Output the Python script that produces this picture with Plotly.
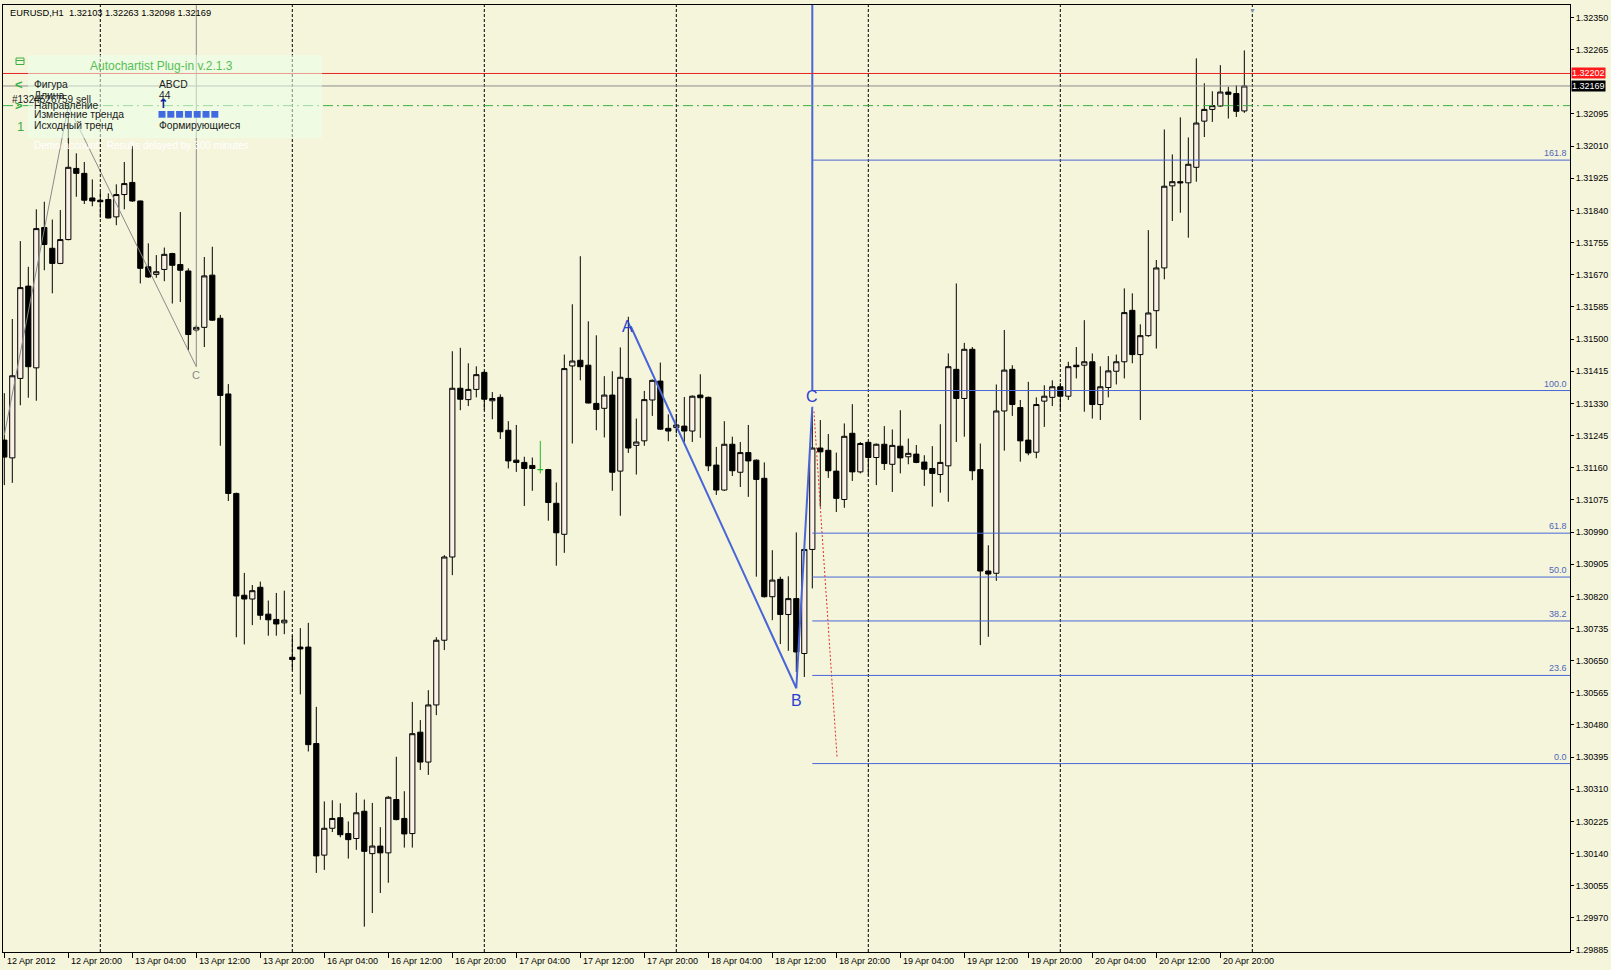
import plotly.graph_objects as go

# ---------------- data (EURUSD H1, bar index 0 = 12 Apr 2012 12:00) ----------------
opens = [
    1.31233, 1.31186, 1.31396, 1.31640, 1.31424, 1.31795, 1.31740, 1.31700, 1.31763, 1.31951,
    1.31938, 1.31873, 1.31867, 1.31869, 1.31823, 1.31882, 1.31914, 1.31865, 1.31691, 1.31671,
    1.31684, 1.31726, 1.31697, 1.31680, 1.31524, 1.31531, 1.31669, 1.31555, 1.31355, 1.31092,
    1.30823, 1.30813, 1.30844, 1.30773, 1.30759, 1.30750, 1.30659, 1.30686, 1.30686, 1.30431,
    1.30136, 1.30207, 1.30235, 1.30193, 1.30180, 1.30252, 1.30140, 1.30160, 1.30142, 1.30283,
    1.30233, 1.30193, 1.30461, 1.30382, 1.30533, 1.30704, 1.30924, 1.31370, 1.31340, 1.31367,
    1.31412, 1.31337, 1.31346, 1.31259, 1.31180, 1.31174, 1.31166, 1.31155, 1.31155, 1.31066,
    1.30984, 1.31429, 1.31444, 1.31431, 1.31330, 1.31317, 1.31352, 1.31151, 1.31396, 1.31219,
    1.31231, 1.31339, 1.31389, 1.31264, 1.31266, 1.31270, 1.31257, 1.31352, 1.31346, 1.31167,
    1.31101, 1.31222, 1.31148, 1.31200, 1.31180, 1.31132, 1.30819, 1.30865, 1.30772, 1.30814,
    1.30669, 1.30944, 1.31212, 1.31206, 1.31151, 1.31076, 1.31251, 1.31149, 1.31227, 1.31187,
    1.31222, 1.31169, 1.31217, 1.31189, 1.31196, 1.31175, 1.31158, 1.31142, 1.31165, 1.31420,
    1.31343, 1.31473, 1.31155, 1.30887, 1.30881, 1.31310, 1.31420, 1.31319, 1.31233, 1.31201,
    1.31336, 1.31346, 1.31374, 1.31349, 1.31431, 1.31431, 1.31440, 1.31327, 1.31372, 1.31415,
    1.31440, 1.31576, 1.31459, 1.31509, 1.31575, 1.31688, 1.31905, 1.31916, 1.31913, 1.31954,
    1.32076, 1.32107, 1.32116, 1.32153, 1.32149, 1.32103]
highs = [
    1.31357, 1.31553, 1.31759, 1.31691, 1.31843, 1.31863, 1.31816, 1.31841, 1.32100, 1.31991,
    1.31968, 1.31922, 1.31889, 1.31885, 1.31909, 1.31968, 1.32010, 1.31866, 1.31753, 1.31722,
    1.31742, 1.31728, 1.31836, 1.31687, 1.31537, 1.31717, 1.31744, 1.31564, 1.31381, 1.31094,
    1.30882, 1.30850, 1.30859, 1.30809, 1.30829, 1.30835, 1.30716, 1.30736, 1.30750, 1.30528,
    1.30278, 1.30281, 1.30273, 1.30225, 1.30301, 1.30283, 1.30274, 1.30210, 1.30292, 1.30396,
    1.30305, 1.30541, 1.30493, 1.30572, 1.30712, 1.30929, 1.31468, 1.31477, 1.31436, 1.31428,
    1.31415, 1.31360, 1.31354, 1.31283, 1.31273, 1.31189, 1.31187, 1.31231, 1.31157, 1.31121,
    1.31459, 1.31592, 1.31719, 1.31547, 1.31510, 1.31402, 1.31415, 1.31478, 1.31559, 1.31290,
    1.31363, 1.31393, 1.31438, 1.31301, 1.31302, 1.31347, 1.31351, 1.31407, 1.31348, 1.31215,
    1.31283, 1.31242, 1.31228, 1.31273, 1.31182, 1.31174, 1.30942, 1.30872, 1.30873, 1.30989,
    1.30946, 1.31317, 1.31286, 1.31249, 1.31200, 1.31277, 1.31328, 1.31228, 1.31229, 1.31224,
    1.31270, 1.31261, 1.31312, 1.31237, 1.31220, 1.31193, 1.31217, 1.31275, 1.31462, 1.31647,
    1.31490, 1.31479, 1.31224, 1.30955, 1.31380, 1.31524, 1.31431, 1.31339, 1.31387, 1.31346,
    1.31378, 1.31391, 1.31384, 1.31440, 1.31479, 1.31550, 1.31462, 1.31428, 1.31455, 1.31459,
    1.31634, 1.31621, 1.31539, 1.31788, 1.31709, 1.32054, 1.31988, 1.32086, 1.32033, 1.32242,
    1.32176, 1.32155, 1.32224, 1.32167, 1.32171, 1.32263]
lows = [
    1.31114, 1.31120, 1.31325, 1.31345, 1.31337, 1.31682, 1.31621, 1.31698, 1.31761, 1.31876,
    1.31857, 1.31851, 1.31821, 1.31819, 1.31801, 1.31843, 1.31863, 1.31647, 1.31662, 1.31662,
    1.31653, 1.31594, 1.31598, 1.31471, 1.31518, 1.31479, 1.31548, 1.31218, 1.31072, 1.30712,
    1.30693, 1.30744, 1.30758, 1.30716, 1.30716, 1.30720, 1.30626, 1.30561, 1.30410, 1.30089,
    1.30097, 1.30197, 1.30183, 1.30127, 1.30150, 1.29947, 1.29983, 1.30036, 1.30063, 1.30228,
    1.30156, 1.30156, 1.30361, 1.30348, 1.30506, 1.30678, 1.30876, 1.31312, 1.31323, 1.31346,
    1.31312, 1.31288, 1.31236, 1.31158, 1.31149, 1.31059, 1.31099, 1.31145, 1.31020, 1.30901,
    1.30935, 1.31224, 1.31391, 1.31330, 1.31259, 1.31240, 1.31099, 1.31033, 1.31199, 1.31142,
    1.31218, 1.31297, 1.31260, 1.31230, 1.31251, 1.31228, 1.31228, 1.31239, 1.31151, 1.31088,
    1.31099, 1.31138, 1.31109, 1.31083, 1.30872, 1.30817, 1.30757, 1.30694, 1.30676, 1.30620,
    1.30607, 1.30841, 1.31057, 1.31133, 1.31043, 1.31054, 1.31125, 1.31145, 1.31139, 1.31114,
    1.31154, 1.31096, 1.31145, 1.31169, 1.31172, 1.31112, 1.31057, 1.31094, 1.31070, 1.31228,
    1.31242, 1.31127, 1.30691, 1.30713, 1.30861, 1.31205, 1.31297, 1.31176, 1.31193, 1.31185,
    1.31268, 1.31323, 1.31312, 1.31339, 1.31396, 1.31308, 1.31290, 1.31286, 1.31346, 1.31380,
    1.31396, 1.31436, 1.31286, 1.31506, 1.31475, 1.31658, 1.31812, 1.31834, 1.31768, 1.31916,
    1.32034, 1.32074, 1.32114, 1.32083, 1.32087, 1.32098]
closes = [
    1.31188, 1.31403, 1.31636, 1.31427, 1.31792, 1.31750, 1.31700, 1.31763, 1.31954, 1.31938,
    1.31867, 1.31865, 1.31863, 1.31820, 1.31882, 1.31911, 1.31865, 1.31687, 1.31664, 1.31678,
    1.31724, 1.31695, 1.31682, 1.31512, 1.31531, 1.31667, 1.31550, 1.31351, 1.31092, 1.30821,
    1.30813, 1.30835, 1.30770, 1.30758, 1.30747, 1.30757, 1.30653, 1.30681, 1.30428, 1.30134,
    1.30207, 1.30233, 1.30190, 1.30177, 1.30248, 1.30146, 1.30160, 1.30142, 1.30289, 1.30230,
    1.30192, 1.30457, 1.30382, 1.30533, 1.30704, 1.30924, 1.31370, 1.31341, 1.31367, 1.31406,
    1.31341, 1.31343, 1.31255, 1.31178, 1.31174, 1.31158, 1.31158, 1.31155, 1.31068, 1.30988,
    1.31422, 1.31442, 1.31427, 1.31331, 1.31314, 1.31352, 1.31148, 1.31399, 1.31212, 1.31228,
    1.31340, 1.31391, 1.31262, 1.31257, 1.31273, 1.31257, 1.31349, 1.31345, 1.31165, 1.31101,
    1.31222, 1.31152, 1.31200, 1.31178, 1.31129, 1.30819, 1.30863, 1.30772, 1.30814, 1.30673,
    1.30944, 1.31212, 1.31202, 1.31152, 1.31079, 1.31243, 1.31149, 1.31224, 1.31187, 1.31222,
    1.31171, 1.31219, 1.31186, 1.31198, 1.31174, 1.31156, 1.31145, 1.31174, 1.31427, 1.31343,
    1.31473, 1.31152, 1.30887, 1.30879, 1.31310, 1.31418, 1.31327, 1.31231, 1.31199, 1.31327,
    1.31349, 1.31374, 1.31349, 1.31427, 1.31427, 1.31440, 1.31327, 1.31374, 1.31416, 1.31440,
    1.31570, 1.31459, 1.31509, 1.31569, 1.31688, 1.31904, 1.31916, 1.31913, 1.31962, 1.32071,
    1.32107, 1.32117, 1.32153, 1.32147, 1.32102, 1.32169]
doji_bars = [67]  # open == close -> drawn in line colour

x_label_bars = [0, 8, 16, 24, 32, 40, 48, 56, 64, 72, 80, 88, 96, 104, 112, 120, 128, 136, 144, 152]
x_label_text = ["12 Apr 2012", "12 Apr 20:00", "13 Apr 04:00", "13 Apr 12:00", "13 Apr 20:00",
                "16 Apr 04:00", "16 Apr 12:00", "16 Apr 20:00", "17 Apr 04:00", "17 Apr 12:00",
                "17 Apr 20:00", "18 Apr 04:00", "18 Apr 12:00", "18 Apr 20:00", "19 Apr 04:00",
                "19 Apr 12:00", "19 Apr 20:00", "20 Apr 04:00", "20 Apr 12:00", "20 Apr 20:00"]
day_separator_bars = [12, 36, 60, 84, 108, 132, 156]

y_tick_vals = [1.29885, 1.29970, 1.30055, 1.30140, 1.30225, 1.30310, 1.30395, 1.30480, 1.30565,
               1.30650, 1.30735, 1.30820, 1.30905, 1.30990, 1.31075, 1.31160, 1.31245, 1.31330,
               1.31415, 1.31500, 1.31585, 1.31670, 1.31755, 1.31840, 1.31925, 1.32010, 1.32095,
               1.32265, 1.32350]

fib_labels = ["161.8", "100.0", "61.8", "50.0", "38.2", "23.6", "0.0"]
fib_prices = [1.31973, 1.31364, 1.30987, 1.30871, 1.30755, 1.30611, 1.30378]
fib_start_bar = 101

abcd_names = ["A", "B", "C"]
abcd_bars = [78.3, 99, 101]
abcd_prices = [1.31534, 1.30577, 1.31321]
d_proj_bars = [101.2, 104.1]
d_proj_prices = [1.31309, 1.30392]

old_pattern_bars = [0, 8, 24]
old_pattern_prices = [1.31246, 1.32116, 1.31427]

stop_price = 1.32202
bid_price = 1.32169
order_price = 1.32117
title_text = "EURUSD,H1  1.32103 1.32263 1.32098 1.32169"

panel_rows = ["Фигура", "Длина", "Направление", "Изменение тренда", "Исходный тренд"]
panel_values = ["ABCD", "44", "", "", "Формирующиеся"]

# ---------------- layout geometry ----------------
FIG_W, FIG_H = 1611, 970
L_M, R_M, T_M, B_M = 3, 41, 5, 18
PW = FIG_W - L_M - R_M
PH = FIG_H - T_M - B_M
X_MIN, X_MAX = -0.1625, 195.71
Y_MIN, Y_MAX = 1.29880, 1.32383
BG = "#F5F5DC"
FONT = "Liberation Sans, Arial, sans-serif"
BLUE = "#4A66D6"


def px(x):
    return (x - L_M) / PW


def py(y):
    return (FIG_H - B_M - y) / PH


idx_main = [i for i in range(len(opens)) if i not in doji_bars]

fig = go.Figure()
fig.add_trace(go.Candlestick(
    x=idx_main,
    open=[opens[i] for i in idx_main], high=[highs[i] for i in idx_main],
    low=[lows[i] for i in idx_main], close=[closes[i] for i in idx_main],
    increasing=dict(line=dict(color="black", width=1), fillcolor="#FAF0E6"),
    decreasing=dict(line=dict(color="black", width=1), fillcolor="black"),
    whiskerwidth=0, showlegend=False, hoverinfo="skip"))
fig.add_trace(go.Candlestick(
    x=doji_bars,
    open=[opens[i] for i in doji_bars], high=[highs[i] for i in doji_bars],
    low=[lows[i] for i in doji_bars], close=[closes[i] for i in doji_bars],
    increasing=dict(line=dict(color="#22BB22", width=1), fillcolor="#22BB22"),
    decreasing=dict(line=dict(color="#22BB22", width=1), fillcolor="#22BB22"),
    whiskerwidth=0, showlegend=False, hoverinfo="skip"))

# old (grey) pattern
fig.add_trace(go.Scatter(x=old_pattern_bars, y=old_pattern_prices, mode="lines",
                         line=dict(color="#8A8A8A", width=1), showlegend=False, hoverinfo="skip"))
fig.add_trace(go.Scatter(x=[old_pattern_bars[2], old_pattern_bars[2]], y=[old_pattern_prices[2], Y_MAX],
                         mode="lines", line=dict(color="#8A8A8A", width=1), showlegend=False, hoverinfo="skip"))

# ABCD pattern
fig.add_trace(go.Scatter(x=abcd_bars, y=abcd_prices, mode="lines",
                         line=dict(color=BLUE, width=2), showlegend=False, hoverinfo="skip"))
fig.add_trace(go.Scatter(x=[abcd_bars[2], abcd_bars[2]], y=[fib_prices[1], Y_MAX], mode="lines",
                         line=dict(color=BLUE, width=2), showlegend=False, hoverinfo="skip"))
fig.add_trace(go.Scatter(x=d_proj_bars, y=d_proj_prices, mode="lines",
                         line=dict(color="#E03030", width=1, dash="2px,2px"), showlegend=False, hoverinfo="skip"))

shapes = []
for b in day_separator_bars:
    shapes.append(dict(type="line", xref="x", yref="paper", x0=b, x1=b, y0=0, y1=1,
                       line=dict(color="black", width=1, dash="3px,2px")))
shapes.append(dict(type="line", xref="paper", yref="y", x0=0, x1=1, y0=stop_price, y1=stop_price,
                   line=dict(color="#E52525", width=1)))
shapes.append(dict(type="line", xref="paper", yref="y", x0=0, x1=1, y0=bid_price, y1=bid_price,
                   line=dict(color="#8C8C8C", width=1)))
shapes.append(dict(type="line", xref="paper", yref="y", x0=0, x1=1, y0=order_price, y1=order_price,
                   line=dict(color="#3CB043", width=1, dash="10px,4px,2px,4px")))
for p in fib_prices:
    shapes.append(dict(type="line", xref="x", yref="y", x0=fib_start_bar, x1=X_MAX, y0=p, y1=p,
                       line=dict(color=BLUE, width=1)))

# Autochartist panel
shapes.append(dict(type="rect", xref="paper", yref="paper", x0=px(28), x1=px(322), y0=py(138), y1=py(55),
                   fillcolor="rgba(235,255,235,0.55)", line=dict(width=0), layer="above"))
shapes.append(dict(type="rect", xref="paper", yref="paper", x0=px(16), x1=px(24), y0=py(64.5), y1=py(58),
                   fillcolor="rgba(0,0,0,0)", line=dict(color="#3CB043", width=1)))
shapes.append(dict(type="line", xref="paper", yref="paper", x0=px(16), x1=px(24), y0=py(60.5), y1=py(60.5),
                   line=dict(color="#3CB043", width=1)))
for i in range(7):
    x0 = 158.5 + 8.8 * i
    shapes.append(dict(type="rect", xref="paper", yref="paper", x0=px(x0), x1=px(x0 + 7),
                       y0=py(117.7), y1=py(111), fillcolor="#4169E1", line=dict(width=0)))

ann = []
for b, t in zip(x_label_bars, x_label_text):
    ann.append(dict(x=b, y=py(961), xref="x", yref="paper", text=t, showarrow=False,
                    xanchor="left", yanchor="middle", xshift=1, font=dict(size=9, color="black")))
for lab, p in zip(fib_labels, fib_prices):
    ann.append(dict(x=1, y=p, xref="paper", yref="y", text=lab, showarrow=False, xanchor="right",
                    yanchor="bottom", xshift=-1, yshift=0, font=dict(size=9, color="#4F66B8")))
ann.append(dict(x=abcd_bars[0], y=abcd_prices[0], text="A", showarrow=False, xshift=-3,
                font=dict(size=16, color="#2B3FD0")))
ann.append(dict(x=abcd_bars[1], y=abcd_prices[1], text="B", showarrow=False, yshift=-12,
                font=dict(size=16, color="#2B3FD0")))
ann.append(dict(x=abcd_bars[2], y=abcd_prices[2], text="C", showarrow=False, yshift=10,
                font=dict(size=16, color="#2B3FD0")))
ann.append(dict(x=old_pattern_bars[2], y=old_pattern_prices[2], text="C", showarrow=False, yshift=-8,
                font=dict(size=11, color="#8A8A8A")))
# price boxes on right axis
ann.append(dict(x=1, y=stop_price, xref="paper", yref="y", text="1.32202", showarrow=False,
                xanchor="left", xshift=1, bgcolor="#FF1A1A", borderpad=0, font=dict(size=9, color="white")))
ann.append(dict(x=1, y=bid_price, xref="paper", yref="y", text="1.32169", showarrow=False,
                xanchor="left", xshift=1, bgcolor="black", borderpad=0, font=dict(size=9, color="white")))
# shift marker
ann.append(dict(x=day_separator_bars[-1], y=1, xref="x", yref="paper", text="▼", showarrow=False,
                yanchor="top", font=dict(size=7, color="#7F8FB0")))
# title
ann.append(dict(x=px(8), y=py(13.5), xref="paper", yref="paper", text=title_text, showarrow=False,
                xanchor="left", yanchor="middle", font=dict(size=9.3, color="black")))
# panel content
ann.append(dict(x=px(161), y=py(65.5), xref="paper", yref="paper", text="Autochartist Plug-in v.2.1.3",
                showarrow=False, xanchor="center", yanchor="middle", font=dict(size=12, color="#55C055")))
row_y = [84.7, 95, 105, 115, 125.7]
for t, v, yy in zip(panel_rows, panel_values, row_y):
    ann.append(dict(x=px(32), y=py(yy), xref="paper", yref="paper", text=t, showarrow=False,
                    xanchor="left", yanchor="middle", font=dict(size=10.3, color="#1A1A1A")))
    if v:
        ann.append(dict(x=px(156.5), y=py(yy), xref="paper", yref="paper", text=v, showarrow=False,
                        xanchor="left", yanchor="middle", font=dict(size=10.3, color="#1A1A1A")))
ann.append(dict(x=px(155.5), y=py(104), xref="paper", yref="paper", text="<b>↑</b>", showarrow=False,
                xanchor="left", yanchor="middle",
                font=dict(family="DejaVu Sans", size=13, color="#0A1E9A")))
ann.append(dict(x=px(10), y=py(99.5), xref="paper", yref="paper", text="#1324526759 sell", showarrow=False,
                xanchor="left", yanchor="middle", font=dict(size=10, color="#1A1A1A")))
ann.append(dict(x=px(13), y=py(84.7), xref="paper", yref="paper", text="<b>&lt;</b>", showarrow=False,
                xanchor="left", yanchor="middle", font=dict(size=13, color="#3CB043")))
ann.append(dict(x=px(13), y=py(105.5), xref="paper", yref="paper", text="<b>&gt;</b>", showarrow=False,
                xanchor="left", yanchor="middle", font=dict(size=13, color="#3CB043")))
ann.append(dict(x=px(14.5), y=py(126), xref="paper", yref="paper", text="1", showarrow=False,
                xanchor="left", yanchor="middle", font=dict(size=13, color="#3CB043")))
ann.append(dict(x=px(32), y=py(145.7), xref="paper", yref="paper",
                text="Demo account.  Results delayed by 300 minutes", showarrow=False,
                xanchor="left", yanchor="middle", font=dict(size=10, color="#FFFFFF")))

fig.update_layout(
    width=FIG_W, height=FIG_H,
    margin=dict(l=L_M, r=R_M, t=T_M, b=B_M, pad=0, autoexpand=False),
    paper_bgcolor=BG, plot_bgcolor=BG,
    font=dict(family=FONT, size=9, color="black"),
    showlegend=False, boxgap=0.35, boxgroupgap=0,
    shapes=shapes, annotations=ann, hovermode=False,
    xaxis=dict(range=[X_MIN, X_MAX], showgrid=False, zeroline=False, rangeslider=dict(visible=False),
               tickvals=x_label_bars, showticklabels=False, ticks="outside", ticklen=5,
               tickcolor="black", showline=True, linecolor="black", linewidth=1, mirror=True),
    yaxis=dict(range=[Y_MIN, Y_MAX], side="right", showgrid=False, zeroline=False,
               tickvals=y_tick_vals, ticktext=["%.5f" % v for v in y_tick_vals],
               ticks="outside", ticklen=3, tickcolor="black", tickfont=dict(size=9),
               showline=True, linecolor="black", linewidth=1, mirror=True),
)

fig.write_html("out.html")
